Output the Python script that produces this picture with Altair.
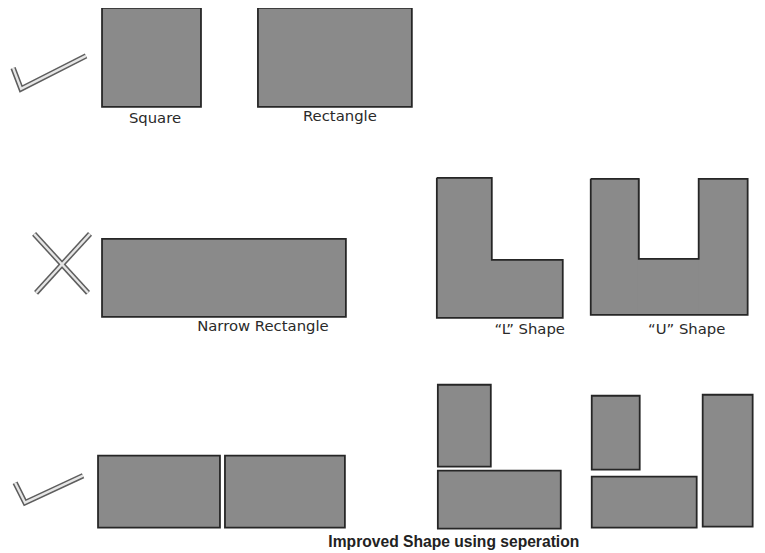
import altair as alt
import pandas as pd

# Outlined rectangles (x0, x1, y0, y1) in picture coordinates
rect_names = ["Square", "Rectangle", "Narrow", "SepLeftA", "SepLeftB",
              "SepLTop", "SepLBottom", "SepUSmall", "SepUBottom", "SepUTall"]
rect_x0 = [102, 258, 102, 98, 225, 438, 438, 592, 592, 703]
rect_x1 = [201, 412, 346, 220, 345, 491, 561, 640, 697, 753]
rect_y0 = [7, 7, 238, 455, 455, 384, 470, 395, 476, 394]
rect_y1 = [106, 106, 316, 527, 527, 466, 528, 469, 527, 526]

# Fill pieces of the L and U shapes (no outline)
fill_x0 = [437, 491, 591, 638, 699]
fill_x1 = [492, 563, 640, 700, 748]
fill_y0 = [177, 259, 178, 258, 178]
fill_y1 = [317, 317, 314, 314, 314]

# Outlines of L and U shapes
L_x = [437, 492, 492, 563, 563, 437, 437]
L_y = [177, 177, 259, 259, 317, 317, 177]
U_x = [591, 639, 639, 699, 699, 748, 748, 591, 591]
U_y = [178, 178, 258, 258, 178, 178, 314, 314, 178]

# Check marks and cross
check1_x = [13, 21, 86]
check1_y = [67, 88, 55]
check2_x = [15, 25, 83]
check2_y = [482, 502, 475]
cross1_x = [34, 88]
cross1_y = [233, 292]
cross2_x = [90, 36]
cross2_y = [233, 292]

# Right frame line
frame_x = [762, 762]
frame_y = [0, 560]

# Labels
label_text = ["Square", "Rectangle", "Narrow Rectangle", "\u201cL\u201d Shape", "\u201cU\u201d Shape"]
label_x = [155, 340, 263, 530, 687]
label_y = [117, 115, 325, 328, 328]
bold_text = ["Improved Shape using seperation"]
bold_x = [454]
bold_y = [541]

rects = pd.DataFrame({"name": rect_names, "x": rect_x0, "x2": rect_x1, "y": rect_y0, "y2": rect_y1})
fills = pd.DataFrame({"x": fill_x0, "x2": fill_x1, "y": fill_y0, "y2": fill_y1})

outline_rows = []
for name, xs_, ys_ in [("L", L_x, L_y), ("U", U_x, U_y)]:
    for i, (a, b) in enumerate(zip(xs_, ys_)):
        outline_rows.append({"id": name, "i": i, "x": a, "y": b})
outlines = pd.DataFrame(outline_rows)

stroke_rows = []
for name, xs_, ys_ in [("c1", check1_x, check1_y), ("c2", check2_x, check2_y),
                       ("x1", cross1_x, cross1_y), ("x2", cross2_x, cross2_y)]:
    for i, (a, b) in enumerate(zip(xs_, ys_)):
        stroke_rows.append({"id": name, "i": i, "x": a, "y": b})
strokes = pd.DataFrame(stroke_rows)

frame = pd.DataFrame({"x": frame_x, "y": frame_y, "i": [0, 1]})
labels = pd.DataFrame({"t": label_text, "x": label_x, "y": label_y})
blabels = pd.DataFrame({"t": bold_text, "x": bold_x, "y": bold_y})

# the page is photographed slightly shrunk; compensate so picture coords match
S = 0.99
W, H = 757, 545
DY = 2
xs = alt.Scale(domain=[8 * S, 8 * S + W * S], nice=False, zero=False)
ys = alt.Scale(domain=[8 * S + DY, 8 * S + DY + H * S], nice=False, zero=False, reverse=True)
X = lambda f="x": alt.X(f"{f}:Q", scale=xs, axis=None)
Y = lambda f="y": alt.Y(f"{f}:Q", scale=ys, axis=None)

FILL = "#8a8a8a"
EDGE = "#262626"

fill_layer = alt.Chart(fills).mark_rect(color=FILL, strokeWidth=0).encode(
    x=X(), x2="x2:Q", y=Y(), y2="y2:Q")

outline_layer = alt.Chart(outlines).mark_line(color=EDGE, strokeWidth=1.8, strokeJoin="miter").encode(
    x=X(), y=Y(), detail="id:N", order=alt.Order("i:Q"))

rect_layer = alt.Chart(rects).mark_rect(color=FILL, stroke=EDGE, strokeWidth=1.8).encode(
    x=X(), x2="x2:Q", y=Y(), y2="y2:Q")

stroke_dark = alt.Chart(strokes).mark_line(color="#5e5e5e", strokeWidth=5.5, strokeJoin="miter", strokeCap="butt").encode(
    x=X(), y=Y(), detail="id:N", order=alt.Order("i:Q"))
stroke_light = alt.Chart(strokes).mark_line(color="#e6e6e6", strokeWidth=2.4, strokeJoin="miter", strokeCap="butt").encode(
    x=X(), y=Y(), detail="id:N", order=alt.Order("i:Q"))

frame_layer = alt.Chart(frame).mark_line(color="#6e6e6e", strokeWidth=1.8).encode(
    x=X(), y=Y(), order=alt.Order("i:Q"))

text_layer = alt.Chart(labels).mark_text(font="DejaVu Sans", fontSize=15, color="#2a2a2a",
                                         baseline="middle", align="center").encode(
    x=X(), y=Y(), text="t:N")
bold_layer = alt.Chart(blabels).mark_text(font="Liberation Sans", fontSize=15.8, fontWeight="bold", color="#222",
                                          baseline="middle", align="center").encode(
    x=X(), y=Y(), text="t:N")

chart = alt.layer(fill_layer, outline_layer, rect_layer, stroke_dark, stroke_light,
                  frame_layer, text_layer, bold_layer).properties(
    width=W, height=H, padding=0, autosize=alt.AutoSizeParams(type="none"),
    background="white"
).configure_view(stroke=None)

chart.save("out.html", embed_options={"renderer": "svg", "actions": False})
